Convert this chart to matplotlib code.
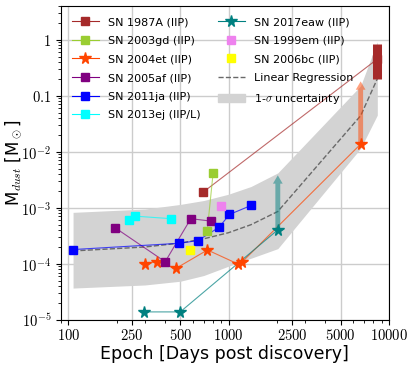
import matplotlib
matplotlib.use("Agg")
import matplotlib.pyplot as plt
from matplotlib.patches import Patch
from matplotlib.lines import Line2D

plt.rcParams["mathtext.fontset"] = "cm"

# Epochs (days) and dust masses (Msun)
sn1987a_t = [693, 8470]
sn1987a_m = [1.9e-3, 0.45]
sn1987a_range = [0.2, 0.85]

sn2003gd_t = [735, 800]
sn2003gd_m = [3.8e-4, 4.1e-3]

sn2004et_t = [302, 360, 469, 738, 1140, 1218, 6670]
sn2004et_m = [1.0e-4, 1.1e-4, 8.3e-5, 1.77e-4, 1.0e-4, 1.09e-4, 0.0137]
sn2004et_limit = 0.18

sn2005af_t = [196, 402, 581, 774]
sn2005af_m = [4.4e-4, 1.09e-4, 6.4e-4, 5.8e-4]

sn2011ja_t = [107, 492, 643, 873, 1012, 1380]
sn2011ja_m = [1.8e-4, 2.33e-4, 2.6e-4, 4.5e-4, 7.6e-4, 1.1e-3]

sn2013ej_t = [240, 261, 438]
sn2013ej_m = [6.1e-4, 7.1e-4, 6.4e-4]

sn2017eaw_t = [298, 499, 2028]
sn2017eaw_m = [1.39e-5, 1.39e-5, 4.05e-4]
sn2017eaw_limit = 3.8e-3

sn1999em_t = [897]
sn1999em_m = [1.07e-3]

sn2006bc_t = [576]
sn2006bc_m = [1.8e-4]

# regression curve and 1-sigma band read at a few epochs
fit_t = [107, 300, 500, 700, 1000, 1380, 2028, 6670, 8470]
fit_m = [1.7e-4, 2.0e-4, 2.35e-4, 2.8e-4, 3.6e-4, 5.0e-4, 8.6e-4, 0.044, 0.20]
fit_hi = [8.3e-4, 9.5e-4, 1.15e-3, 1.35e-3, 1.75e-3, 2.4e-3, 4.2e-3, 0.15, 0.92]
fit_lo = [3.7e-5, 4.2e-5, 4.9e-5, 6.2e-5, 9.1e-5, 1.26e-4, 1.87e-4, 0.0115, 0.045]

xticks = [100, 250, 500, 1000, 2500, 5000, 10000]
yticks = [1e-5, 1e-4, 1e-3, 1e-2, 0.1, 1]
yticklabels = [r"$10^{-5}$", r"$10^{-4}$", r"$10^{-3}$", r"$10^{-2}$", r"$0.1$", r"$1$"]

fig = plt.figure(figsize=(4.15, 3.69), dpi=100)
ax = fig.add_axes([0.147, 0.133, 0.79, 0.851])

ax.fill_between(fit_t, fit_lo, fit_hi, color="lightgray", lw=0, zorder=1)
ax.plot(fit_t, fit_m, ls="--", color="dimgray", lw=1, zorder=2)

ms = 5.5
lw = 0.8
series = [
    (sn1987a_t, sn1987a_m, "brown", "s", ms),
    (sn2003gd_t, sn2003gd_m, "yellowgreen", "s", ms),
    (sn2004et_t, sn2004et_m, "orangered", "*", 8.5),
    (sn2005af_t, sn2005af_m, "purple", "s", ms),
    (sn2011ja_t, sn2011ja_m, "blue", "s", ms),
    (sn2013ej_t, sn2013ej_m, "cyan", "s", ms),
    (sn2017eaw_t, sn2017eaw_m, "teal", "*", 8.5),
]
for t, m, c, mk, s in series:
    ax.plot(t, m, color=c, lw=lw, alpha=0.7, zorder=3)
    ax.plot(t, m, ls="none", marker=mk, ms=s, color=c, zorder=4)

ax.plot(sn1999em_t, sn1999em_m, ls="none", marker="s", ms=ms, color="violet", zorder=4)
ax.plot(sn2006bc_t, sn2006bc_m, ls="none", marker="s", ms=ms, color="yellow", zorder=4)

ax.vlines(sn1987a_t[-1], sn1987a_range[0], sn1987a_range[1], color="brown", lw=6.5, zorder=5)

ax.annotate("", xy=(sn2004et_t[-1], sn2004et_limit), xytext=(sn2004et_t[-1], sn2004et_m[-1]),
            arrowprops=dict(width=3.5, headwidth=7, headlength=6, color="orangered", alpha=0.5, lw=0),
            zorder=3)
ax.annotate("", xy=(sn2017eaw_t[-1], sn2017eaw_limit), xytext=(sn2017eaw_t[-1], sn2017eaw_m[-1]),
            arrowprops=dict(width=3.5, headwidth=7, headlength=6, color="teal", alpha=0.5, lw=0),
            zorder=3)

ax.set_xscale("log")
ax.set_yscale("log")
ax.set_xlim(90, 10000)
ax.set_ylim(1e-5, 4)
ax.set_xticks(xticks)
ax.set_xticklabels([r"$%d$" % v for v in xticks], fontsize=10.5)
ax.set_yticks(yticks)
ax.set_yticklabels(yticklabels, fontsize=10.5)
ax.tick_params(axis="x", which="major", pad=2)
ax.grid(True, which="major", color="#cccccc", lw=1)
ax.set_axisbelow(True)

ax.set_xlabel("Epoch [Days post discovery]", fontsize=12.5, labelpad=2)
ax.set_ylabel(r"M$_{dust}$ [M$_\odot$]", fontsize=12)
ax.yaxis.set_label_coords(-0.112, 0.5)

handles = [
    Line2D([], [], color="brown", marker="s", ms=ms, lw=lw),
    Line2D([], [], color="yellowgreen", marker="s", ms=ms, lw=lw),
    Line2D([], [], color="orangered", marker="*", ms=8.5, lw=lw),
    Line2D([], [], color="purple", marker="s", ms=ms, lw=lw),
    Line2D([], [], color="blue", marker="s", ms=ms, lw=lw),
    Line2D([], [], color="cyan", marker="s", ms=ms, lw=lw),
    Line2D([], [], color="teal", marker="*", ms=8.5, lw=lw),
    Line2D([], [], color="violet", marker="s", ms=ms, ls="none"),
    Line2D([], [], color="yellow", marker="s", ms=ms, ls="none"),
    Line2D([], [], color="dimgray", ls="--", lw=1),
    Patch(color="lightgray"),
]
labels = ["SN 1987A (IIP)", "SN 2003gd (IIP)", "SN 2004et (IIP)", "SN 2005af (IIP)",
          "SN 2011ja (IIP)", "SN 2013ej (IIP/L)", "SN 2017eaw (IIP)", "SN 1999em (IIP)",
          "SN 2006bc (IIP)", "Linear Regression", r"1-$\sigma$ uncertainty"]
ax.legend(handles, labels, ncol=2, loc="upper left", frameon=False, fontsize=8,
          handlelength=2.4, columnspacing=1.6, labelspacing=0.78, borderaxespad=0.6)

fig.savefig("out.png", dpi=100)
